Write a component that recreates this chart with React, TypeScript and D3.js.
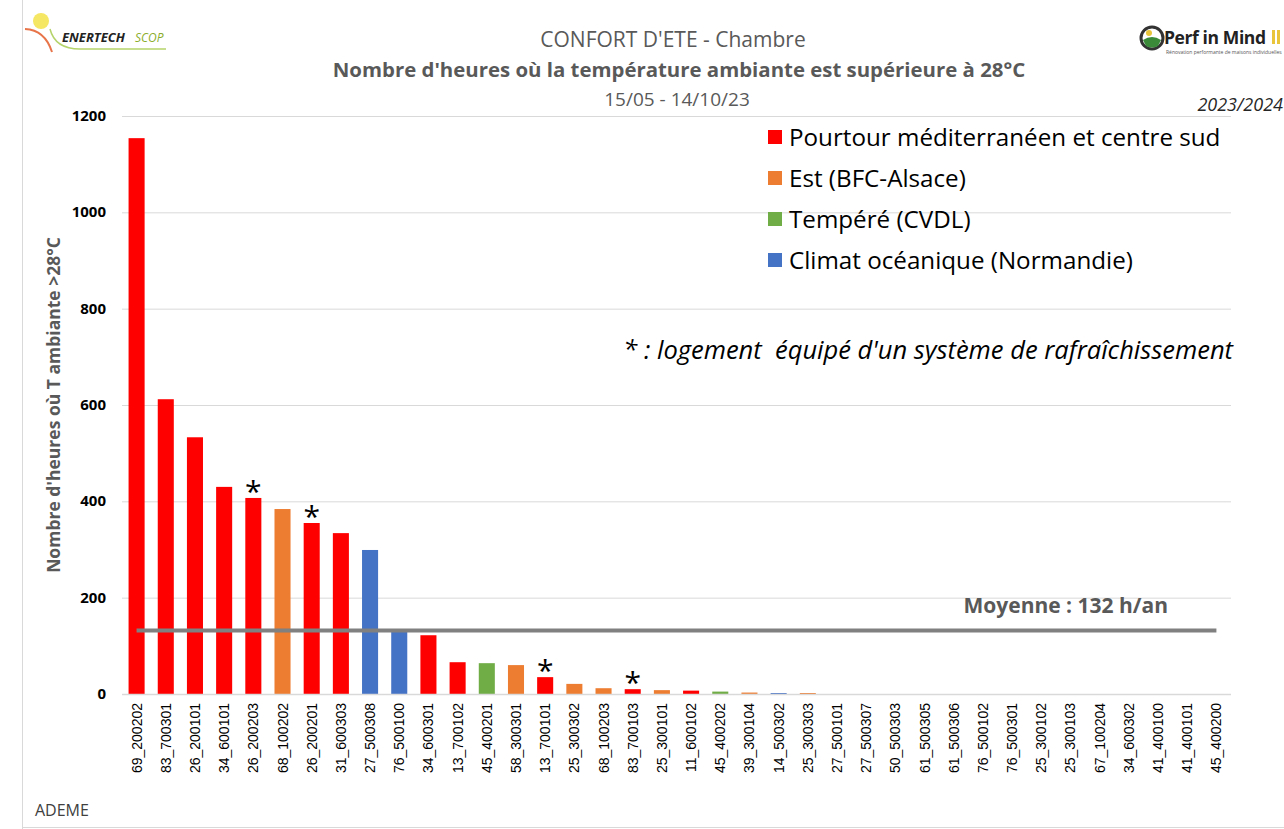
import React, { useEffect, useRef } from "react";
import * as d3 from "d3";

// categories (logement codes) in display order
const categories = [
  "69_200202", "83_700301", "26_200101", "34_600101", "26_200203", "68_100202",
  "26_200201", "31_600303", "27_500308", "76_500100", "34_600301", "13_700102",
  "45_400201", "58_300301", "13_700101", "25_300302", "68_100203", "83_700103",
  "25_300101", "11_600102", "45_400202", "39_300104", "14_500302", "25_300303",
  "27_500101", "27_500307", "50_500303", "61_500305", "61_500306", "76_500102",
  "76_500301", "25_300102", "25_300103", "67_100204", "34_600302", "41_400100",
  "41_400101", "45_400200",
];

// hours above 28°C
const hours = [
  1154, 612, 533, 430, 407, 384, 355, 334, 299, 130, 122, 66,
  64, 60, 35, 21, 12, 10, 8, 7, 5, 3, 2, 2,
  0, 0, 0, 0, 0, 0, 0, 0, 0, 0, 0, 0,
  0, 0,
];

// climate zone of each logement (index into zones)
const zoneOf = [
  0, 0, 0, 0, 0, 1, 0, 0, 3, 3, 0, 0,
  2, 1, 0, 1, 1, 0, 1, 0, 2, 1, 3, 1,
  0, 0, 0, 0, 0, 0, 0, 0, 0, 0, 0, 0,
  0, 0,
];

const zones = [
  "Pourtour méditerranéen et centre sud",
  "Est (BFC-Alsace)",
  "Tempéré (CVDL)",
  "Climat océanique (Normandie)",
];
const zoneColors = ["#FF0000", "#ED7D31", "#70AD47", "#4472C4"];

// logements with a cooling system
const cooled = ["26_200203", "26_200201", "13_700101", "83_700103"];

const average = 132;
const yTicks = [0, 200, 400, 600, 800, 1000, 1200];

const FONT = "'Open Sans', sans-serif";

const App = () => {
  const svgRef = useRef<SVGSVGElement>(null);

  useEffect(() => {
    const svg = d3.select(svgRef.current);
    svg.selectAll("*").remove();

    const W = 1284;
    const H = 829;
    const left = 122;
    const right = 1231;
    const top = 116;
    const bottom = 694;

    svg.append("rect").attr("width", W).attr("height", H).attr("fill", "#fff");

    // frame lines
    svg.append("line").attr("x1", 22.5).attr("x2", 22.5).attr("y1", 0).attr("y2", H)
      .attr("stroke", "#d9d9d9");
    svg.append("line").attr("x1", 22).attr("x2", W).attr("y1", 827.5).attr("y2", 827.5)
      .attr("stroke", "#d9d9d9");

    const x = d3.scaleBand().domain(categories).range([left, right]).paddingInner(0.45).paddingOuter(0.225);
    const y = d3.scaleLinear().domain([0, 1200]).range([bottom, top]);

    // gridlines
    svg.append("g")
      .selectAll("line")
      .data(yTicks.filter((t) => t > 0))
      .join("line")
      .attr("x1", left)
      .attr("x2", right)
      .attr("y1", (d) => y(d) + 0.5)
      .attr("y2", (d) => y(d) + 0.5)
      .attr("stroke", "#d9d9d9");

    // y axis labels
    svg.append("g")
      .selectAll("text")
      .data(yTicks)
      .join("text")
      .attr("x", 106)
      .attr("y", (d) => y(d) + 5)
      .attr("text-anchor", "end")
      .attr("font-family", FONT)
      .attr("font-weight", "bold")
      .attr("font-size", 15)
      .attr("fill", "#000")
      .text((d) => d);

    svg.append("text")
      .attr("transform", `translate(60,${(top + bottom) / 2}) rotate(-90)`)
      .attr("text-anchor", "middle")
      .attr("font-family", FONT)
      .attr("font-weight", "bold")
      .attr("font-size", 17.5)
      .attr("fill", "#595959")
      .text("Nombre d'heures où T ambiante >28°C");

    // bars
    svg.append("g")
      .selectAll("rect")
      .data(categories)
      .join("rect")
      .attr("x", (d) => x(d)!)
      .attr("width", x.bandwidth())
      .attr("y", (d, i) => y(hours[i]))
      .attr("height", (d, i) => bottom - y(hours[i]))
      .attr("fill", (d, i) => zoneColors[zoneOf[i]]);

    // x axis line
    svg.append("line")
      .attr("x1", left).attr("x2", right)
      .attr("y1", bottom + 0.5).attr("y2", bottom + 0.5)
      .attr("stroke", "#d9d9d9").attr("stroke-width", 1.5);

    // x labels
    svg.append("g")
      .selectAll("text")
      .data(categories)
      .join("text")
      .attr("transform", (d) => `translate(${x(d)! + x.bandwidth() / 2 + 5},${bottom + 9}) rotate(-90)`)
      .attr("text-anchor", "end")
      .attr("font-family", "'Liberation Sans', Arial, sans-serif")
      .attr("font-size", 14)
      .attr("fill", "#000")
      .text((d) => d);

    // cooled markers
    svg.append("g")
      .selectAll("text")
      .data(cooled)
      .join("text")
      .attr("x", (d) => x(d)! + x.bandwidth() / 2)
      .attr("y", (d) => y(hours[categories.indexOf(d)]) + 4)
      .attr("text-anchor", "middle")
      .attr("font-family", FONT)
      .attr("font-size", 30)
      .attr("fill", "#000")
      .text("*");

    // average line
    const first = categories[0];
    const last = categories[categories.length - 1];
    svg.append("line")
      .attr("x1", x(first)! + x.bandwidth() / 2)
      .attr("x2", x(last)! + x.bandwidth() / 2)
      .attr("y1", y(average))
      .attr("y2", y(average))
      .attr("stroke", "#808080")
      .attr("stroke-width", 4);

    svg.append("text")
      .attr("x", 1168)
      .attr("y", y(average) - 17)
      .attr("text-anchor", "end")
      .attr("font-family", FONT)
      .attr("font-weight", "bold")
      .attr("font-size", 21)
      .attr("fill", "#595959")
      .text(`Moyenne : ${average} h/an`);

    // legend
    const legend = svg.append("g").attr("transform", "translate(768,138)");
    zones.forEach((z, i) => {
      const g = legend.append("g").attr("transform", `translate(0,${i * 41})`);
      g.append("rect").attr("x", 0).attr("y", -8).attr("width", 14).attr("height", 14)
        .attr("fill", zoneColors[i]);
      g.append("text").attr("x", 21).attr("y", 8)
        .attr("font-family", FONT).attr("font-size", 24.2).attr("fill", "#000")
        .text(z);
    });

    svg.append("text")
      .attr("x", 1233)
      .attr("y", 359)
      .attr("text-anchor", "end")
      .attr("font-family", FONT)
      .attr("font-style", "italic")
      .attr("font-size", 25.5)
      .attr("fill", "#000")
      .attr("xml:space", "preserve")
      .text("* : logement  équipé d'un système de rafraîchissement");

    // titles
    svg.append("text").attr("x", 673).attr("y", 47).attr("text-anchor", "middle")
      .attr("font-family", FONT).attr("font-size", 21).attr("fill", "#595959")
      .text("CONFORT D'ETE - Chambre");
    svg.append("text").attr("x", 679).attr("y", 77).attr("text-anchor", "middle")
      .attr("font-family", FONT).attr("font-weight", "bold").attr("font-size", 20.4).attr("fill", "#595959")
      .text("Nombre d'heures où la température ambiante est supérieure à 28°C");
    svg.append("text").attr("x", 677).attr("y", 106).attr("text-anchor", "middle")
      .attr("font-family", FONT).attr("font-size", 19).attr("fill", "#595959")
      .text("15/05 - 14/10/23");

    svg.append("text").attr("x", 1283).attr("y", 111).attr("text-anchor", "end")
      .attr("font-family", FONT).attr("font-style", "italic").attr("font-size", 18).attr("fill", "#262626")
      .text("2023/2024");

    svg.append("text").attr("x", 35).attr("y", 816)
      .attr("font-family", FONT).attr("font-size", 16).attr("fill", "#404040")
      .text("ADEME");

    // Enertech logo
    const en = svg.append("g");
    en.append("circle").attr("cx", 41).attr("cy", 21).attr("r", 8).attr("fill", "#f5e663");
    en.append("path").attr("d", "M25,29 Q45,30 52,52").attr("fill", "none")
      .attr("stroke", "#e8744a").attr("stroke-width", 2);
    en.append("path").attr("d", "M50,29 Q55,49 80,49 L166,49").attr("fill", "none")
      .attr("stroke", "#b5d36b").attr("stroke-width", 1.5);
    en.append("text").attr("x", 62).attr("y", 42)
      .attr("font-family", FONT).attr("font-weight", "bold").attr("font-style", "italic")
      .attr("font-size", 13).attr("fill", "#222").text("ENERTECH");
    en.append("text").attr("x", 135).attr("y", 42)
      .attr("font-family", FONT).attr("font-style", "italic").attr("font-size", 12).attr("fill", "#8aad2c").text("SCOP");

    // Perf in Mind logo
    const pm = svg.append("g");
    pm.append("circle").attr("cx", 1152).attr("cy", 38).attr("r", 11).attr("fill", "#fff")
      .attr("stroke", "#333").attr("stroke-width", 3);
    pm.append("path").attr("d", "M1143,40 Q1152,34 1161,40 L1158,46 Q1152,49 1146,46 Z").attr("fill", "#3a8a3a");
    pm.append("circle").attr("cx", 1149).attr("cy", 33).attr("r", 3).attr("fill", "#e8c53a");
    pm.append("text").attr("x", 1164).attr("y", 44)
      .attr("font-family", FONT).attr("font-weight", "bold").attr("font-size", 17.5).attr("fill", "#222")
      .attr("letter-spacing", -0.4)
      .text("Perf in Mind");
    pm.append("rect").attr("x", 1272).attr("y", 30).attr("width", 3).attr("height", 14).attr("fill", "#e8c53a");
    pm.append("rect").attr("x", 1277).attr("y", 30).attr("width", 3).attr("height", 14).attr("fill", "#e8c53a");
    pm.append("text").attr("x", 1166).attr("y", 54)
      .attr("font-family", FONT).attr("font-size", 5).attr("fill", "#555")
      .text("Rénovation performante de maisons individuelles");
  }, []);

  return (
    <svg
      ref={svgRef}
      width={1284}
      height={829}
      style={{ position: "absolute", left: 0, top: 0, display: "block" }}
    />
  );
};

export default App;
